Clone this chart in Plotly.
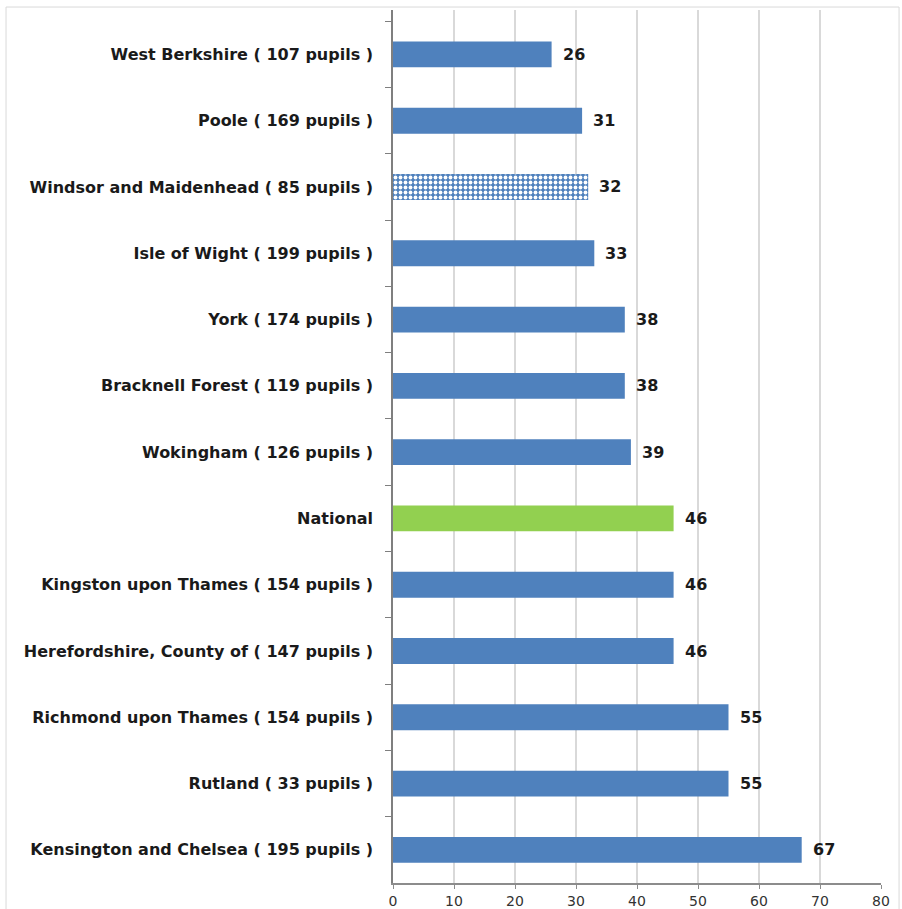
import plotly.graph_objects as go

# Authorities listed top to bottom, with their value and bar style
areas = [
    "West Berkshire ( 107 pupils )",
    "Poole ( 169 pupils )",
    "Windsor and Maidenhead ( 85 pupils )",
    "Isle of Wight ( 199 pupils )",
    "York ( 174 pupils )",
    "Bracknell Forest ( 119 pupils )",
    "Wokingham ( 126 pupils )",
    "National",
    "Kingston upon Thames ( 154 pupils )",
    "Herefordshire, County of ( 147 pupils )",
    "Richmond upon Thames ( 154 pupils )",
    "Rutland ( 33 pupils )",
    "Kensington and Chelsea ( 195 pupils )",
]
values = [26, 31, 32, 33, 38, 38, 39, 46, 46, 46, 55, 55, 67]
kinds = ["la", "la", "highlight", "la", "la", "la", "la", "national",
         "la", "la", "la", "la", "la"]

x_ticks = [0, 10, 20, 30, 40, 50, 60, 70, 80]

BLUE = "#4f81bd"
GREEN = "#92d050"

fig = go.Figure()

groups = {
    "la": dict(color=BLUE, pattern=dict(shape="")),
    "national": dict(color=GREEN, pattern=dict(shape="")),
    "highlight": dict(color=BLUE,
                      pattern=dict(shape=".", fgcolor="white", bgcolor=BLUE,
                                   size=5, solidity=0.45, fillmode="replace")),
}

for kind, style in groups.items():
    ys = [a for a, k in zip(areas, kinds) if k == kind]
    xs = [v for v, k in zip(values, kinds) if k == kind]
    fig.add_trace(go.Bar(
        x=xs, y=ys, orientation="h", width=0.39,
        marker=dict(color=style["color"], pattern=style["pattern"],
                    line=dict(width=0)),
        showlegend=False, hoverinfo="x+y",
    ))

# value labels just past each bar end
for a, v in zip(areas, values):
    fig.add_annotation(
        x=v, y=a, text=f"<b>{v}</b>", showarrow=False,
        xanchor="left", xshift=9,
        font=dict(family="DejaVu Sans", size=16, color="#1a1a1a"),
    )

# light frame around the whole chart
fig.add_shape(
    type="rect", xref="paper", yref="paper",
    x0=-0.793, x1=1.037, y0=-0.05, y1=1.0034,
    line=dict(color="#d9d9d9", width=1), fillcolor="rgba(0,0,0,0)",
    layer="below",
)

fig.update_layout(
    width=902, height=909,
    margin=dict(l=393, r=21, t=10, b=26),
    paper_bgcolor="white", plot_bgcolor="white",
    bargap=0.6,
    font=dict(family="DejaVu Sans", color="#1a1a1a"),
    xaxis=dict(
        range=[0, 80], tickvals=x_ticks, ticktext=[str(t) for t in x_ticks],
        showgrid=True, gridcolor="#d9d9d9", gridwidth=1.5,
        showline=True, linecolor="#8c8c8c", linewidth=1.5,
        ticks="outside", ticklen=4, tickcolor="#8c8c8c",
        tickfont=dict(family="DejaVu Sans", size=14, color="#333333"),
        zeroline=False, automargin=False, fixedrange=True,
    ),
    yaxis=dict(
        type="category", categoryorder="array", categoryarray=areas,
        range=[12.5, -0.67],
        showline=True, linecolor="#7f7f7f", linewidth=1.5,
        ticks="outside", tickson="boundaries", ticklen=6, tickcolor="#7f7f7f",
        ticklabelstandoff=15,
        tickfont=dict(family="DejaVu Sans", size=16, color="#1a1a1a",
                      weight="bold"),
        showgrid=False, zeroline=False, automargin=False, fixedrange=True,
    ),
)

fig.write_html("out.html")
